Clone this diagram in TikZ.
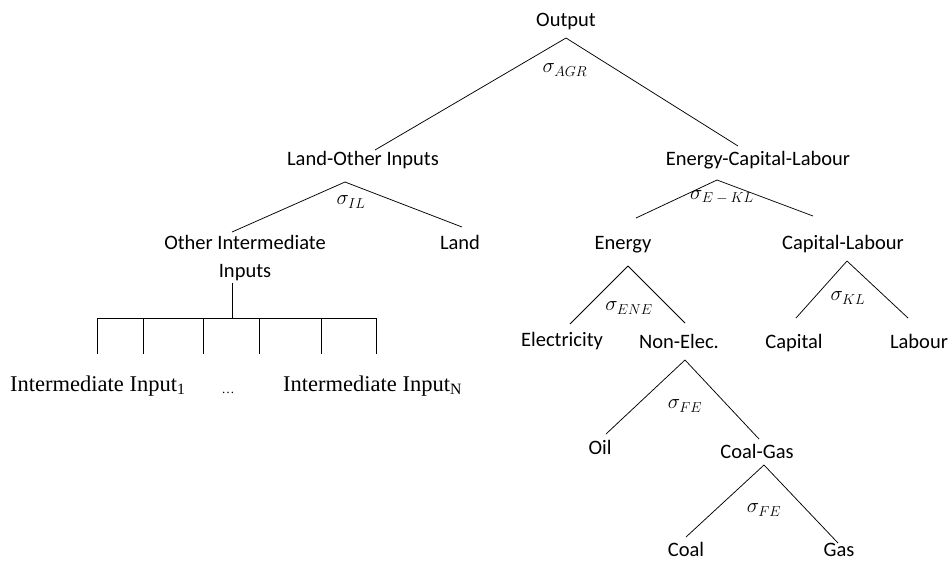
\documentclass[tikz,border=0pt]{standalone}
\usepackage{fontspec}
\setmainfont{Carlito}
\newfontfamily\serifnest{Liberation Serif}
\newcommand{\elas}[1]{$\sigma_{\mbox{\fontsize{14.5}{16}\selectfont$#1$}}$}

\begin{document}
\begin{tikzpicture}[x=1pt, y=-1pt,
    nodes={inner sep=0pt, text height=13pt, text depth=0pt,
           font=\fontsize{20.5}{28}\selectfont},
    sig/.style={text height=, text depth=, font=\fontsize{20}{24}\selectfont},
    nest/.style={anchor=west, font=\fontsize{22.5}{26}\selectfont\serifnest},
    every edge/.style={draw, line width=.75pt}]
    \useasboundingbox (0,0) rectangle (950,563);

    % the goods
    \node(output)  at (566,20)  {Output};
    \node(landoth) at (363,159) {Land-Other Inputs};
    \node(eclab)   at (758,159) {Energy-Capital-Labour};
    \node(othint)  at (245,271) [align=center] {Other Intermediate\\Inputs};
    \node(land)    at (460,243) {Land};
    \node(energy)  at (623,243) {Energy};
    \node(caplab)  at (843,243) {Capital-Labour};
    \node(elec)    at (562,340) {Electricity};
    \node(nonelec) at (679,342) {Non-Elec.};
    \node(capital) at (794,342) {Capital};
    \node(labour)  at (919,342) {Labour};
    \node(oil)     at (600,448) {Oil};
    \node(coalgas) at (757,452) {Coal-Gas};
    \node(coal)    at (686,550) {Coal};
    \node(gas)     at (839,550) {Gas};
    \node(int-1)   at (10,385)  [nest] {Intermediate Input\textsubscript{1}};
    \node(int-dots) at (228,387) [font=\fontsize{13}{16}\selectfont\serifnest] {…};
    \node(int-n)   at (283,385) [nest] {Intermediate Input\textsubscript{N}};

    % elasticities
    \node(s-agr) [sig] at (565,70)  {\elas{AGR}};
    \node(s-il)  [sig] at (351,202) {\elas{IL}};
    \node(s-ekl) [sig] at (722,197) {\elas{E-KL}};
    \node(s-ene) [sig] at (629,308) {\elas{ENE}};
    \node(s-kl)  [sig] at (848,298) {\elas{KL}};
    \node(s-fe)  [sig] at (685,406) {\elas{FE}};
    \node(s-fe2) [sig] at (764,510) {\elas{FE}};

    % nest tops and leg ends
    \coordinate(output-a)  at (566,38);
    \coordinate(landoth-e) at (375,150);
    \coordinate(eclab-e)   at (738,146);
    \coordinate(landoth-a) at (345,182);
    \coordinate(othint-e)  at (232,232);
    \coordinate(land-e)    at (462,227);
    \coordinate(eclab-a)   at (717,180);
    \coordinate(energy-e)  at (636,218);
    \coordinate(caplab-e)  at (813,216);
    \coordinate(energy-a)  at (628,266);
    \coordinate(elec-e)    at (570,324);
    \coordinate(nonelec-e) at (685,323);
    \coordinate(caplab-a)  at (847,261);
    \coordinate(capital-e) at (796,318);
    \coordinate(labour-e)  at (908,318);
    \coordinate(nonelec-a) at (685,360);
    \coordinate(oil-e)     at (606,434);
    \coordinate(coalgas-e) at (759,439);
    \coordinate(coalgas-a) at (764,465);
    \coordinate(coal-e)    at (686,537);
    \coordinate(gas-e)     at (838,543);

    \path(output-a)  edge (landoth-e) edge (eclab-e);
    \path(landoth-a) edge (othint-e)  edge (land-e);
    \path(eclab-a)   edge (energy-e)  edge (caplab-e);
    \path(energy-a)  edge (elec-e)    edge (nonelec-e);
    \path(caplab-a)  edge (capital-e) edge (labour-e);
    \path(nonelec-a) edge (oil-e)     edge (coalgas-e);
    \path(coalgas-a) edge (coal-e)    edge (gas-e);

    % comb under the intermediate inputs
    \coordinate(othint-a) at (232,283);
    \coordinate(comb-m)   at (232,318);
    \coordinate(comb-l)   at (97,318);
    \coordinate(comb-r)   at (376,318);
    \path(othint-a) edge (comb-m);
    \path(comb-l) edge (comb-r);
    \foreach \x in {97,143,203,259,321,376}
      \path(\x,318) edge (\x,354);
\end{tikzpicture}
\end{document}
